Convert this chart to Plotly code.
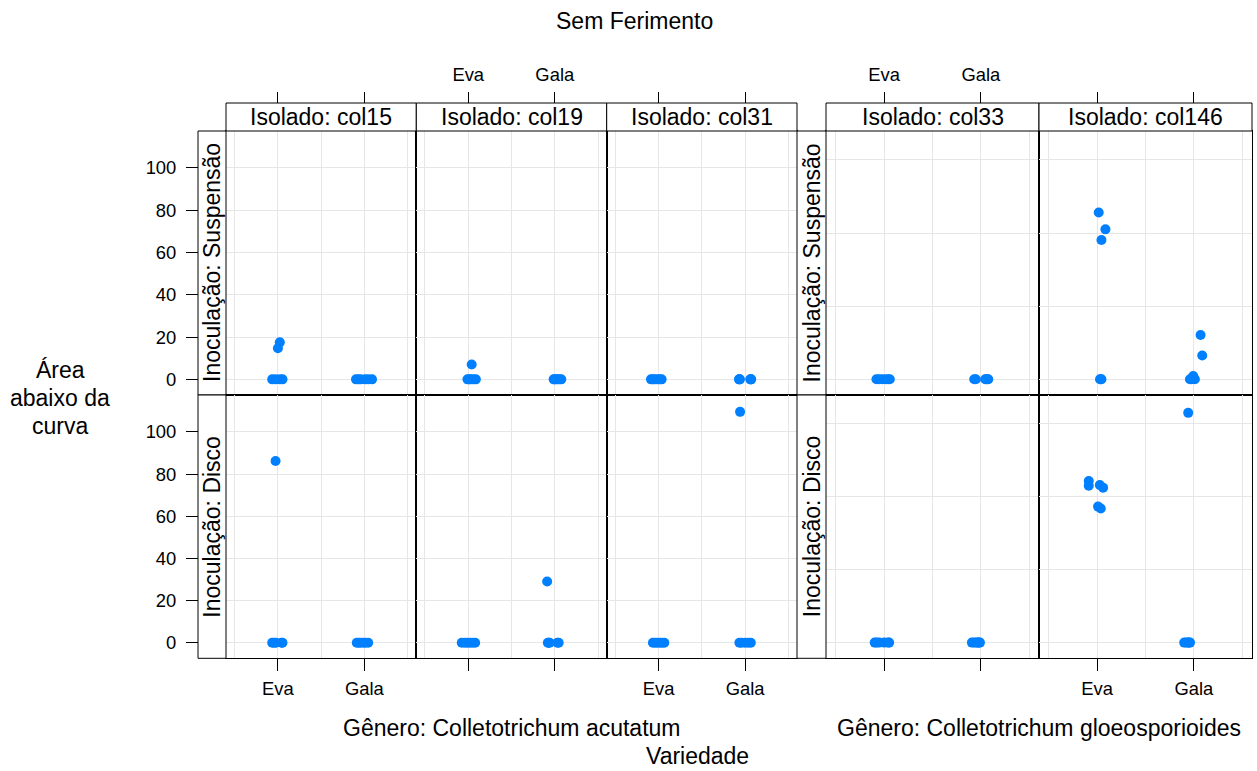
import plotly.graph_objects as go

# ---------------- data ----------------
isolados = ["col15", "col19", "col31", "col33", "col146"]
generos = ["Gênero: Colletotrichum acutatum", "Gênero: Colletotrichum gloeosporioides"]
variedades = ["Eva", "Gala"]
inoculacoes = ["Inoculação: Suspensão", "Inoculação: Disco"]
y_ticks_acutatum = [0, 20, 40, 60, 80, 100]
y_ticks_gloeo = [0, 20, 40, 60]

# Suspensão (values, and horizontal jitter in category units)
susp_col15_eva = [0, 0, 0, 0, 17.5, 14.7]
susp_col15_eva_jit = [-0.066, -0.027, 0.022, 0.053, 0.022, 0.0]
susp_col15_gala = [0, 0, 0, 0, 0, 0]
susp_col15_gala_jit = [-0.097, -0.044, 0.009, 0.044, 0.088, -0.07]
susp_col19_eva = [0, 0, 0, 0, 0, 7.0]
susp_col19_eva_jit = [-0.009, 0.027, 0.058, 0.088, 0.013, 0.04]
susp_col19_gala = [0, 0, 0, 0, 0, 0]
susp_col19_gala_jit = [-0.013, 0.013, 0.035, 0.053, 0.075, 0.0]
susp_col31_eva = [0, 0, 0, 0, 0, 0]
susp_col31_eva_jit = [-0.088, -0.066, -0.044, -0.013, 0.013, 0.035]
susp_col31_gala = [0, 0, 0, 0, 0, 0]
susp_col31_gala_jit = [-0.066, -0.07, -0.06, 0.066, 0.07, 0.06]
susp_col33_eva = [0, 0, 0, 0, 0, 0]
susp_col33_eva_jit = [-0.079, -0.052, 0.017, 0.041, 0.059, -0.017]
susp_col33_gala = [0, 0, 0, 0, 0, 0]
susp_col33_gala_jit = [-0.069, -0.052, 0.045, 0.069, 0.076, 0.052]
susp_col146_eva = [45.6, 41.0, 38.1, 0, 0, 0]
susp_col146_eva_jit = [0.017, 0.086, 0.045, 0.03, 0.038, 0.045]
susp_col146_gala = [12.1, 6.5, 0.9, 0, 0, 0]
susp_col146_gala_jit = [0.069, 0.086, -0.007, -0.041, 0.01, -0.024]

# Disco
disco_col15_eva = [0, 0, 0, 0, 0, 86.2]
disco_col15_eva_jit = [-0.066, -0.044, 0.053, 0.04, -0.022, -0.027]
disco_col15_gala = [0, 0, 0, 0, 0, 0]
disco_col15_gala_jit = [-0.088, -0.066, -0.044, -0.013, 0.013, 0.044]
disco_col19_eva = [0, 0, 0, 0, 0, 0]
disco_col19_eva_jit = [-0.075, -0.04, -0.01, 0.02, 0.05, 0.08]
disco_col19_gala = [0, 0, 0, 0, 0, 29.0]
disco_col19_gala_jit = [-0.08, -0.06, 0.03, 0.045, -0.07, -0.088]
disco_col31_eva = [0, 0, 0, 0, 0, 0]
disco_col31_eva_jit = [-0.066, -0.04, -0.013, 0.013, 0.04, 0.066]
disco_col31_gala = [0, 0, 0, 0, 0, 109.5]
disco_col31_gala_jit = [-0.066, -0.04, 0.0, 0.035, 0.066, -0.058]
disco_col33_eva = [0, 0, 0, 0, 0, 0]
disco_col33_eva_jit = [-0.097, -0.052, 0.0, 0.041, 0.052, -0.079]
disco_col33_gala = [0, 0, 0, 0, 0, 0]
disco_col33_gala_jit = [-0.093, -0.07, -0.045, -0.02, -0.01, -0.035]
disco_col146_eva = [44.3, 43.0, 43.2, 42.5, 37.3, 36.8]
disco_col146_eva_jit = [-0.086, -0.086, 0.028, 0.062, 0.01, 0.038]
disco_col146_gala = [63.0, 0, 0, 0, 0, 0]
disco_col146_gala_jit = [-0.059, -0.1, -0.08, -0.06, -0.05, -0.04]

# lookup table built from the named lists
g = globals()
table = {}
for r, pre in enumerate(["susp", "disco"]):
    for c, iso in enumerate(isolados):
        for v, var in enumerate(variedades):
            key = f"{pre}_{iso}_{var.lower()}"
            table[(r, c, v)] = (g[key], g[key + "_jit"])

# ---------------- layout geometry ----------------
W, H = 1257, 771
def fx(px): return px / W
def fy(py): return 1 - py / H

col_px = [(226, 416.3), (416.3, 606.7), (606.7, 797), (826, 1039), (1039, 1252)]
row_px = [(131, 395), (395, 658.3)]
strip_top = 103
left_strip_px = [(198, 226), (797, 826)]
y_range_acut = [-7.4, 117.5]
y_range_gloeo = [-4.3, 67.9]
x_range = [0.4, 2.6]

GRID = "#e6e6e6"
BLUE = "#0080ff"
FONT = "Liberation Sans"
TICKF = 18.4
BIGF = 23

fig = go.Figure()
layout = {}

for r in range(2):
    for c in range(5):
        idx = r * 5 + c + 1
        vals_ticks = y_ticks_acutatum if c < 3 else y_ticks_gloeo
        yr = y_range_acut if c < 3 else y_range_gloeo
        for v in range(2):
            vals, jit = table[(r, c, v)]
            fig.add_trace(go.Scatter(
                x=[v + 1 + j for j in jit], y=vals, mode="markers",
                marker=dict(color=BLUE, size=10, line=dict(width=0)),
                xaxis=f"x{idx}", yaxis=f"y{idx}", showlegend=False, hoverinfo="skip"))
        xa = dict(domain=[fx(col_px[c][0]), fx(col_px[c][1])], range=x_range,
                  anchor=f"y{idx}", showline=True, mirror=True, linecolor="black",
                  linewidth=1, zeroline=False, showgrid=True, gridcolor=GRID, gridwidth=1,
                  tickmode="array", tickvals=[1, 2], ticktext=variedades,
                  minor=dict(tickmode="array", tickvals=[0.5, 1.5, 2.5], showgrid=True,
                             gridcolor=GRID, gridwidth=1, ticks=""),
                  tickfont=dict(size=TICKF, color="black", family=FONT))
        if r == 1:
            xa.update(ticks="outside", ticklen=12, tickwidth=1, tickcolor="black",
                      showticklabels=(c in (0, 2, 4)), ticklabelstandoff=2)
        else:
            xa.update(ticks="", showticklabels=False)
        ya = dict(domain=[fy(row_px[r][1]), fy(row_px[r][0])], range=yr,
                  anchor=f"x{idx}", showline=True, mirror=True, linecolor="black",
                  linewidth=1, zeroline=False, showgrid=True, gridcolor=GRID, gridwidth=1,
                  tickmode="array", tickvals=vals_ticks, ticks="", showticklabels=False)
        layout[f"xaxis{idx}"] = xa
        layout[f"yaxis{idx}"] = ya

# top tick axes (overlaying top-row panels)
for c in range(5):
    idx = 10 + c + 1
    layout[f"xaxis{idx}"] = dict(overlaying=f"x{c+1}", anchor="free", position=fy(strip_top),
                                 side="top", range=x_range, tickmode="array", tickvals=[1, 2],
                                 ticktext=variedades, ticks="outside", ticklen=11, tickwidth=1,
                                 tickcolor="black", showticklabels=(c in (1, 3)),
                                 showgrid=False, showline=False, zeroline=False,
                                 tickfont=dict(size=TICKF, color="black", family=FONT),
                                 ticklabelstandoff=4)
    fig.add_trace(go.Scatter(x=[None], y=[None], xaxis=f"x{idx}", yaxis=f"y{c+1}",
                             showlegend=False, hoverinfo="skip"))

# left y tick axes (acutatum group)
for r, base in enumerate([1, 6]):
    idx = 16 + r
    layout[f"yaxis{idx}"] = dict(overlaying=f"y{base}", anchor="free", position=fx(198),
                                 side="left", range=y_range_acut, tickmode="array",
                                 tickvals=y_ticks_acutatum, ticks="outside", ticklen=12,
                                 tickwidth=1, tickcolor="black", showgrid=False,
                                 showline=False, zeroline=False,
                                 tickfont=dict(size=TICKF, color="black", family=FONT),
                                 ticklabelstandoff=6)
    fig.add_trace(go.Scatter(x=[None], y=[None], xaxis=f"x{base}", yaxis=f"y{idx}",
                             showlegend=False, hoverinfo="skip"))

shapes = []
annotations = []
# top strips
for c, iso in enumerate(isolados):
    x0, x1 = col_px[c]
    shapes.append(dict(type="rect", xref="paper", yref="paper", x0=fx(x0), x1=fx(x1),
                       y0=fy(row_px[0][0]), y1=fy(strip_top), fillcolor="white",
                       line=dict(color="black", width=1), layer="above"))
    annotations.append(dict(text=f"Isolado: {iso}", xref="paper", yref="paper",
                            x=fx((x0 + x1) / 2), y=fy((row_px[0][0] + strip_top) / 2),
                            showarrow=False, xanchor="center", yanchor="middle",
                            font=dict(size=BIGF, family=FONT, color="black")))
# left strips
for gi, (sx0, sx1) in enumerate(left_strip_px):
    for r, inoc in enumerate(inoculacoes):
        y0, y1 = row_px[r]
        shapes.append(dict(type="rect", xref="paper", yref="paper", x0=fx(sx0), x1=fx(sx1),
                           y0=fy(y1), y1=fy(y0), fillcolor="white",
                           line=dict(color="black", width=1), layer="above"))
        annotations.append(dict(text=inoc, xref="paper", yref="paper",
                                x=fx((sx0 + sx1) / 2), y=fy((y0 + y1) / 2), textangle=-90,
                                showarrow=False, xanchor="center", yanchor="middle",
                                font=dict(size=BIGF, family=FONT, color="black")))

def txt(text, px, py, size=BIGF, yanchor="middle"):
    annotations.append(dict(text=text, xref="paper", yref="paper", x=fx(px), y=fy(py),
                            showarrow=False, xanchor="center", yanchor=yanchor,
                            font=dict(size=size, family=FONT, color="black")))

txt("Sem Ferimento", 634, 21)
txt(generos[0], (col_px[0][0] + col_px[2][1]) / 2, 728)
txt(generos[1], (col_px[3][0] + col_px[4][1]) / 2, 728)
txt("Variedade", 697, 771, yanchor="bottom")
txt("Área", 60, 370)
txt("abaixo da", 60, 398)
txt("curva", 60, 426)

fig.update_layout(width=W, height=H, margin=dict(l=0, r=0, t=0, b=0),
                  paper_bgcolor="white", plot_bgcolor="white", showlegend=False,
                  font=dict(family=FONT, color="black"),
                  shapes=shapes, annotations=annotations, **layout)

fig.write_html("out.html", config={"displayModeBar": False},
               post_script="document.body.style.margin='0px';document.body.style.overflow='hidden';")
